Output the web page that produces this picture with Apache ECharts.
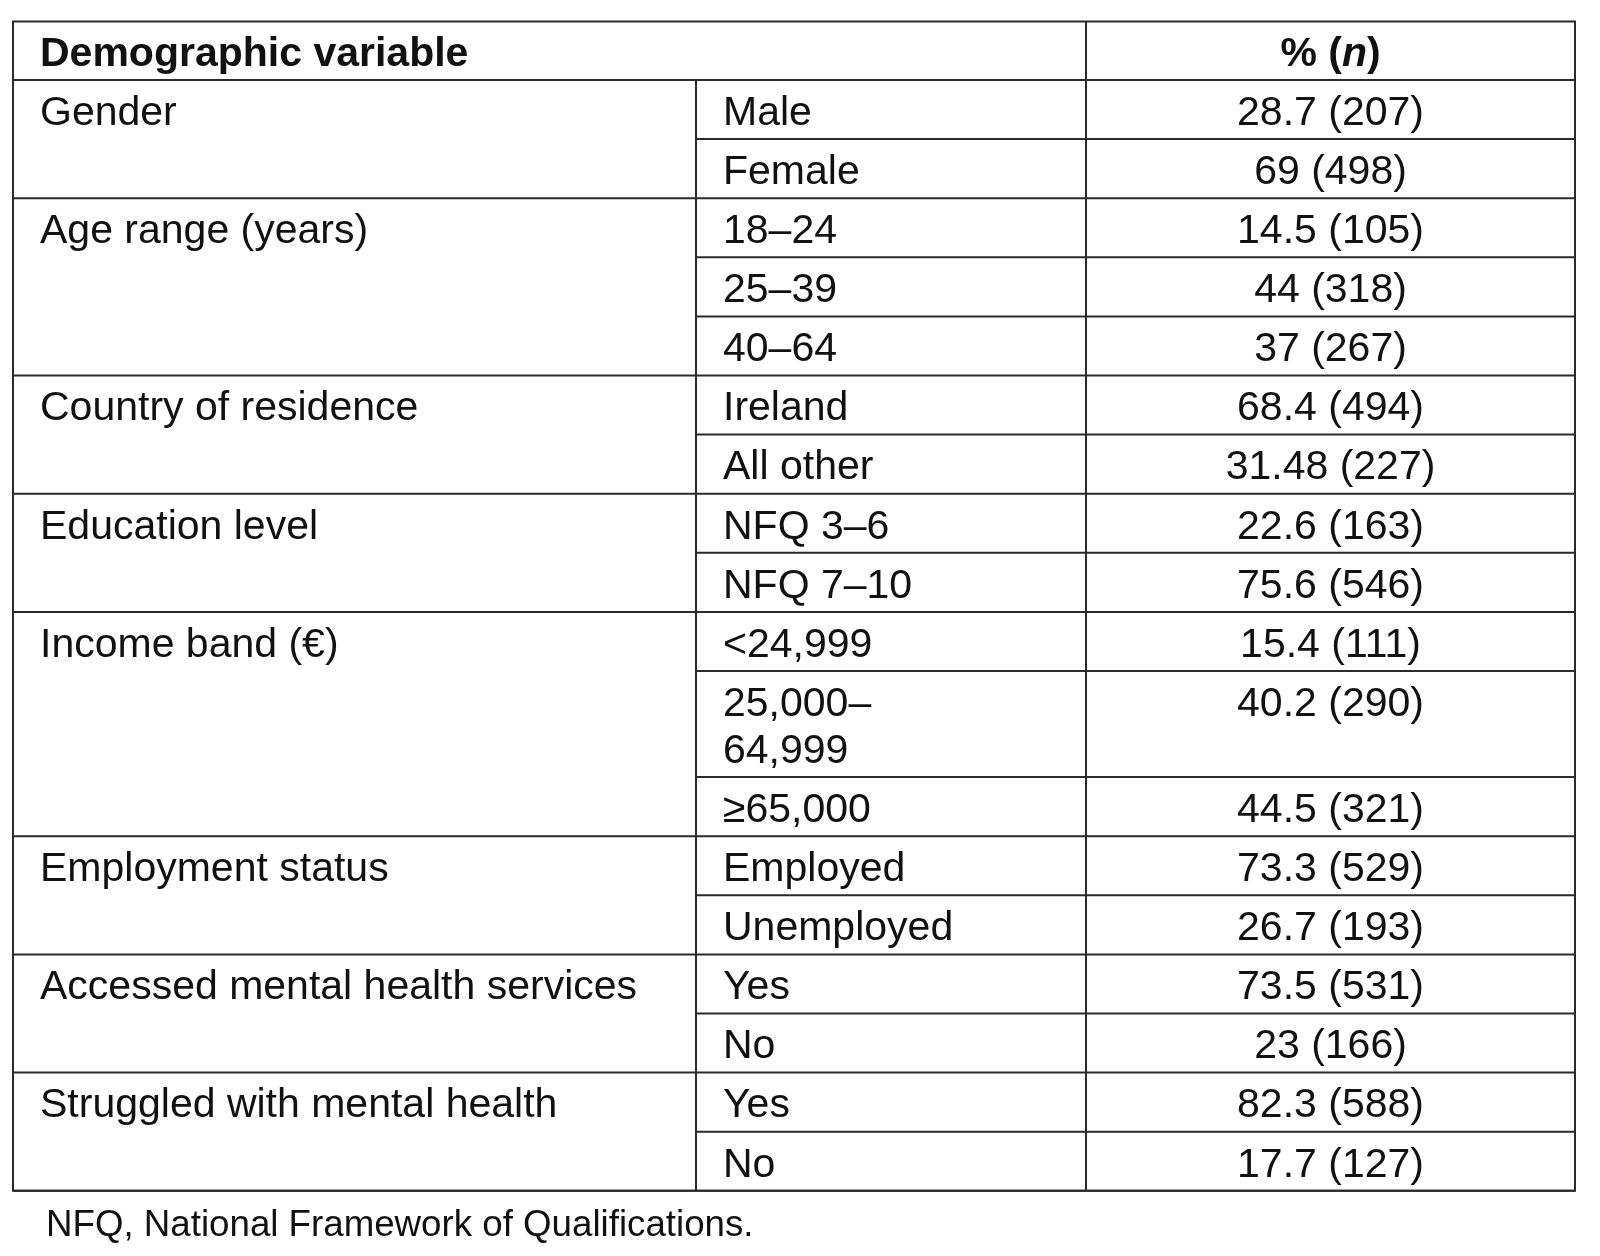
<!DOCTYPE html>
<html>
<head>
<meta charset="utf-8">
<script src="https://cdn.jsdelivr.net/npm/echarts@6/dist/echarts.min.js"></script>
<style>
html, body { margin: 0; padding: 0; background: #fff; }
#chart { width: 1600px; height: 1256px; }
</style>
</head>
<body>
<div id="chart"></div>
<script>
// table content
const headers = ['Demographic variable', '% (', 'n', ')'];
const groups = ['Gender', 'Age range (years)', 'Country of residence', 'Education level',
    'Income band (€)', 'Employment status', 'Accessed mental health services', 'Struggled with mental health'];
const groupSizes = [2, 3, 2, 2, 3, 2, 2, 2];
const categories = ['Male', 'Female', '18–24', '25–39', '40–64', 'Ireland', 'All other', 'NFQ 3–6', 'NFQ 7–10',
    '<24,999', '25,000–\n64,999', '≥65,000', 'Employed', 'Unemployed', 'Yes', 'No', 'Yes', 'No'];
const percents = [28.7, 69, 14.5, 44, 37, 68.4, 31.48, 22.6, 75.6, 15.4, 40.2, 44.5, 73.3, 26.7, 73.5, 23, 82.3, 17.7];
const counts = [207, 498, 105, 318, 267, 494, 227, 163, 546, 111, 290, 321, 529, 193, 531, 166, 588, 127];
const footnote = 'NFQ, National Framework of Qualifications.';

// layout
const cols = [13, 696, 1086, 1575];
const tableTop = 21.5, headerH = 58.5, rowH = 59.1, extraLineH = 47;
const padX = 27, textTop = 10;
const font = 'Liberation Sans, Arial, sans-serif';
const fontSize = 41;
const lineColor = '#2a2a2a';
const textColor = '#111';

// build row bounds
let rows = [];
let y = tableTop + headerH;
let k = 0;
groupSizes.forEach(function (size, g) {
    for (let j = 0; j < size; j++) {
        let lines = categories[k].split('\n').length;
        let h = rowH + (lines - 1) * extraLineH;
        rows.push({ top: y, bottom: y + h, group: g, first: j === 0, last: j === size - 1 });
        y += h;
        k++;
    }
});
const tableBottom = y;

function cellText(x, yy, text, align, extra) {
    return {
        type: 'text',
        style: Object.assign({
            x: x, y: yy, text: text,
            fontSize: fontSize, fontFamily: font, fill: textColor,
            align: align, verticalAlign: 'top', lineHeight: extraLineH
        }, extra || {})
    };
}

function hLine(api, x1, x2, yy) {
    let a = api.coord([x1, yy]), b = api.coord([x2, yy]);
    return { type: 'line', shape: { x1: a[0], y1: a[1], x2: b[0], y2: b[1] }, style: { stroke: lineColor, lineWidth: 2 } };
}
function vLine(api, xx, y1, y2) {
    let a = api.coord([xx, y1]), b = api.coord([xx, y2]);
    return { type: 'line', shape: { x1: a[0], y1: a[1], x2: b[0], y2: b[1] }, style: { stroke: lineColor, lineWidth: 2 } };
}

function renderRow(params, api) {
    let i = params.dataIndex;
    let r = rows[i];
    let top = api.value(0);
    let children = [];
    let p2 = api.coord([cols[1] + padX, top + textTop]);
    children.push(cellText(p2[0], p2[1], categories[i], 'left'));
    let p3 = api.coord([(cols[2] + cols[3]) / 2, top + textTop]);
    children.push(cellText(p3[0], p3[1], percents[i] + ' (' + counts[i] + ')', 'center'));
    if (r.first) {
        let p1 = api.coord([cols[0] + padX, top + textTop]);
        children.push(cellText(p1[0], p1[1], groups[r.group], 'left'));
    }
    children.push(hLine(api, r.last ? cols[0] : cols[1], cols[3], api.value(1)));
    return { type: 'group', children: children };
}

function renderFrame(params, api) {
    let children = [];
    let a = api.coord([cols[0], tableTop]), b = api.coord([cols[3], tableBottom]);
    children.push({
        type: 'rect',
        shape: { x: a[0], y: a[1], width: b[0] - a[0], height: b[1] - a[1] },
        style: { fill: 'none', stroke: lineColor, lineWidth: 2 }
    });
    children.push(hLine(api, cols[0], cols[3], tableTop + headerH));
    children.push(vLine(api, cols[1], tableTop + headerH, tableBottom));
    children.push(vLine(api, cols[2], tableTop, tableBottom));
    let h1 = api.coord([cols[0] + padX, tableTop + textTop]);
    children.push(cellText(h1[0], h1[1], headers[0], 'left', { fontWeight: 'bold' }));
    let h2 = api.coord([(cols[2] + cols[3]) / 2, tableTop + textTop]);
    children.push(cellText(h2[0], h2[1], '{b|' + headers[1] + '}{i|' + headers[2] + '}{b|' + headers[3] + '}', 'center', {
        rich: {
            b: { fontWeight: 'bold', fontSize: fontSize, fontFamily: font, fill: textColor, lineHeight: extraLineH },
            i: { fontWeight: 'bold', fontStyle: 'italic', fontSize: fontSize, fontFamily: font, fill: textColor, lineHeight: extraLineH }
        }
    }));
    let f = api.coord([46, tableBottom + 35]);
    children.push({
        type: 'text',
        style: { x: f[0], y: f[1], text: footnote, fontSize: 36.7, fontFamily: font, fill: textColor, align: 'left', verticalAlign: 'middle' }
    });
    return { type: 'group', children: children };
}

let chart = echarts.init(document.getElementById('chart'));
let option = {
    backgroundColor: '#fff',
    animation: false,
    grid: { left: 0, right: 0, top: 0, bottom: 0 },
    xAxis: { type: 'value', min: 0, max: 1600, show: false },
    yAxis: { type: 'value', min: 0, max: 1256, inverse: true, show: false },
    series: [
        {
            type: 'custom',
            name: 'frame',
            clip: false,
            renderItem: renderFrame,
            data: [[0, 0]]
        },
        {
            type: 'custom',
            name: 'rows',
            clip: false,
            renderItem: renderRow,
            encode: { x: -1, y: [0, 1] },
            data: rows.map(function (r) { return [r.top, r.bottom]; })
        }
    ]
};
chart.setOption(option);
window.onresize = function () {
    chart.resize();
};
</script>
</body>
</html>
